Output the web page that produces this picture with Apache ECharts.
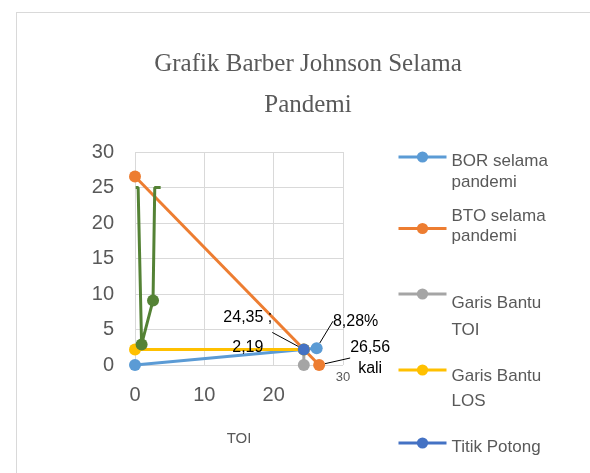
<!DOCTYPE html>
<html>
<head>
<meta charset="utf-8">
<script src="https://cdn.jsdelivr.net/npm/echarts@6/dist/echarts.min.js"></script>
<style>
  html, body { margin: 0; padding: 0; background: #ffffff; }
  #frame { position: absolute; left: 16px; top: 12px; width: 580px; height: 470px; border: 1px solid #d9d9d9; box-sizing: border-box; }
  #chart { position: absolute; left: 0; top: 0; width: 590px; height: 473px; }
</style>
</head>
<body>
<div id="frame"></div>
<div id="chart"></div>
<script>
// Barber Johnson chart during the pandemic: TOI on x, LOS on y
const titleText = 'Grafik Barber Johnson Selama\nPandemi';
const xAxisName = 'TOI';
const xTickValues = [0, 10, 20, 30];
const yTickValues = [0, 5, 10, 15, 20, 25, 30];

const seriesNames = ['BOR selama\npandemi', 'BTO selama\npandemi', 'Garis Bantu\nTOI', 'Garis Bantu\nLOS', 'Titik Potong'];

// indicator values
const borPercent = 8.28;
const btoTimes = 26.56;
const toiValue = 24.35;
const losValue = 2.19;

// line end points [TOI, LOS]
const borPoints = [[0, 0], [26.2, 2.37]];
const btoPoints = [[0, 26.56], [26.56, 0]];
const toiPoints = [[24.35, 0], [24.35, 2.19]];
const losPoints = [[0, 2.19], [24.35, 2.19]];
const cutPoints = [[24.35, 2.19]];
const greenPoints = [[0.1, 25], [0.45, 25], [0.95, 2.9], [2.6, 9.1], [2.85, 25], [3.7, 25]];
const greenMarked = [false, false, true, true, false, false];

const colors = {
  bor: '#5B9BD5', bto: '#ED7D31', toi: '#A5A5A5', los: '#FFC000', cut: '#4472C4', green: '#548235'
};

const SANS = 'Liberation Sans, Arial, sans-serif';
const SERIF = 'Liberation Serif, Times New Roman, serif';
const fmt = v => v.toFixed(2).replace('.', ',');

const chart = echarts.init(document.getElementById('chart'), null, { renderer: 'canvas' });

function lineSeries(name, data, color, z, extra) {
  return Object.assign({
    type: 'line',
    name: name,
    data: data,
    z: z,
    symbol: 'circle',
    symbolSize: 12,
    showSymbol: true,
    lineStyle: { color: color, width: 3 },
    itemStyle: { color: color },
    emphasis: { disabled: true },
    animation: false
  }, extra || {});
}

const dataLabel = { fontFamily: SANS, fontSize: 16, color: '#000000' };

// one legend block per entry so each can sit at its own height;
// shift > 0 moves the text block down relative to the marker
const ITEM_H = 14;
const LEGEND_FONT = 17;
function legendBlock(name, markerY, lineH, shift) {
  const lines = name.split('\n');
  const spacer = Math.max(1, Math.abs(shift) * 2);
  let parts = lines.map(l => '{t|' + l + '}');
  if (shift > 0) parts = ['{sp| }'].concat(parts);
  else if (shift < 0) parts = parts.concat(['{sp| }']);
  const boxH = lines.length * lineH + (shift !== 0 ? spacer : 0);
  const above = Math.max(0, boxH / 2 - ITEM_H / 2);
  return {
    data: [name],
    left: 397,
    top: markerY - ITEM_H / 2 - above,
    orient: 'vertical',
    padding: 0,
    itemWidth: 48,
    itemHeight: ITEM_H,
    selectedMode: false,
    lineStyle: { width: 3 },
    formatter: () => parts.join('\n'),
    textStyle: {
      fontFamily: SANS, fontSize: LEGEND_FONT, color: '#595959',
      rich: {
        t: { fontFamily: SANS, fontSize: LEGEND_FONT, color: '#595959', lineHeight: lineH },
        sp: { fontSize: 1, lineHeight: spacer, height: spacer }
      }
    }
  };
}

const option = {
  backgroundColor: 'transparent',
  animation: false,
  title: {
    text: titleText,
    left: 303,
    textAlign: 'center',
    top: 39,
    textStyle: { fontFamily: SERIF, fontSize: 25, fontWeight: 'normal', color: '#595959', lineHeight: 41 }
  },
  legend: [
    legendBlock(seriesNames[0], 157, 21, 15),
    legendBlock(seriesNames[1], 230, 20, -2),
    legendBlock(seriesNames[2], 294, 27, 23),
    legendBlock(seriesNames[3], 370, 25, 19),
    legendBlock(seriesNames[4], 443, 20, 4)
  ],
  grid: { left: 135, right: 247, top: 152, bottom: 108, containLabel: false },
  xAxis: [
    {
      type: 'value', min: xTickValues[0], max: xTickValues[xTickValues.length - 1], interval: 10,
      name: xAxisName, nameLocation: 'middle', nameGap: 66,
      nameTextStyle: { fontFamily: SANS, fontSize: 15, color: '#595959' },
      axisLine: { show: false }, axisTick: { show: false },
      splitLine: { show: true, lineStyle: { color: '#d9d9d9', width: 1 } },
      axisLabel: {
        margin: 20, fontFamily: SANS, fontSize: 20, color: '#595959',
        formatter: v => (v === 30 ? '' : String(v))
      }
    },
    {
      type: 'value', min: xTickValues[0], max: xTickValues[xTickValues.length - 1], interval: 10,
      position: 'bottom', gridIndex: 0,
      axisLine: { show: false }, axisTick: { show: false }, splitLine: { show: false },
      axisLabel: {
        margin: 6, fontFamily: SANS, fontSize: 13, color: '#595959',
        showMaxLabel: true, hideOverlap: false,
        formatter: v => (v === 30 ? String(v) : '')
      }
    }
  ],
  yAxis: {
    type: 'value', min: yTickValues[0], max: yTickValues[yTickValues.length - 1], interval: 5,
    axisLine: { show: false }, axisTick: { show: false },
    splitLine: { show: true, lineStyle: { color: '#d9d9d9', width: 1 } },
    axisLabel: { margin: 21, fontFamily: SANS, fontSize: 20, color: '#595959' }
  },
  series: [
    lineSeries(seriesNames[0], borPoints, colors.bor, 2, {
      label: {
        show: true, position: 'inside', ...dataLabel,
        formatter: p => (p.dataIndex === 1 ? fmt(borPercent) + '%' : '')
      },
      labelLayout: p => (p.dataIndex === 1 ? { dx: 39, dy: -27 } : {}),
      labelLine: { show: true, lineStyle: { color: '#000000', width: 1 } }
    }),
    lineSeries(seriesNames[1], btoPoints, colors.bto, 3, {
      label: {
        show: true, position: 'inside', ...dataLabel, lineHeight: 21,
        formatter: p => (p.dataIndex === 1 ? fmt(btoTimes) + '\nkali' : '')
      },
      labelLayout: p => (p.dataIndex === 1 ? { dx: 51, dy: -7 } : {}),
      labelLine: { show: true, lineStyle: { color: '#000000', width: 1 } }
    }),
    lineSeries(seriesNames[2], toiPoints, colors.toi, 4),
    lineSeries(seriesNames[3], losPoints, colors.los, 5),
    lineSeries(seriesNames[4], cutPoints, colors.cut, 6, {
      label: {
        show: true, position: 'inside', ...dataLabel, lineHeight: 30,
        formatter: () => fmt(toiValue) + ' ;\n' + fmt(losValue)
      },
      labelLayout: { dx: -56, dy: -17 },
      labelLine: { show: true, lineStyle: { color: '#000000', width: 1 } }
    }),
    lineSeries('Garis bantu', greenPoints.map((pt, i) => ({
      value: pt, symbol: greenMarked[i] ? 'circle' : 'none'
    })), colors.green, 7)
  ]
};

chart.setOption(option);
</script>
</body>
</html>
